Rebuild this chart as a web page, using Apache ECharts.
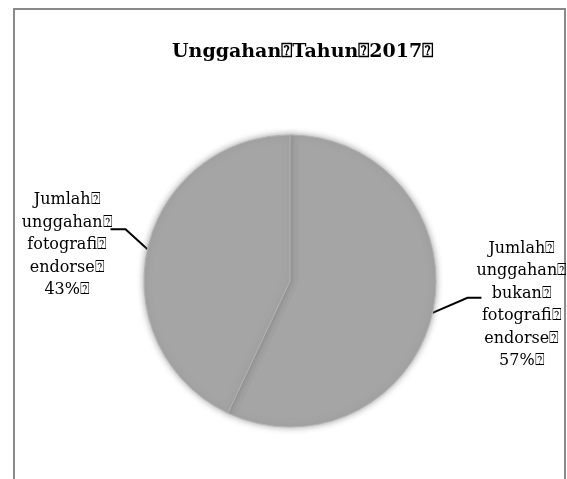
<!DOCTYPE html>
<html>
<head>
<meta charset="utf-8">
<script src="https://cdn.jsdelivr.net/npm/echarts@6/dist/echarts.min.js"></script>
<style>
  html, body { margin: 0; padding: 0; background: #fff; }
  #main { width: 567px; height: 479px; }
</style>
</head>
<body>
<div id="main"></div>
<script>
var mark = '\u2370';
var titleText = 'Unggahan' + mark + 'Tahun' + mark + '2017' + mark;
var categories = [
  ['Jumlah', 'unggahan', 'bukan', 'fotografi', 'endorse'],
  ['Jumlah', 'unggahan', 'fotografi', 'endorse']
];
var values = [57, 43];

var seriesData = categories.map(function (lines, i) {
  return { name: lines.join(mark + '\n') + mark, value: values[i] };
});

var myChart = echarts.init(document.getElementById('main'));
myChart.setOption({
  animation: false,
  textStyle: { fontFamily: 'DejaVu Serif' },
  title: {
    text: titleText,
    left: 167,
    top: 38,
    textStyle: {
      fontFamily: 'DejaVu Serif',
      fontWeight: 'bold',
      fontSize: 19,
      color: '#000'
    }
  },
  graphic: [{
    type: 'rect',
    shape: { x: 14, y: 9, width: 551, height: 500 },
    style: { fill: 'none', stroke: '#8a8a8a', lineWidth: 2 },
    silent: true
  }],
  series: [{
    type: 'pie',
    right: -30,
    center: [290, 281],
    radius: 146,
    startAngle: 90,
    clockwise: true,
    percentPrecision: 0,
    data: seriesData,
    itemStyle: {
      color: '#a5a5a5',
      borderColor: '#b3b3b3',
      borderWidth: 1,
      shadowBlur: 6,
      shadowColor: 'rgba(120,120,120,0.7)'
    },
    emphasis: { disabled: true },
    label: {
      show: true,
      position: 'outside',
      distanceToLabelLine: 0,
      bleedMargin: 0,
      formatter: function (p) {
        var lines = p.name.split('\n').concat([p.percent + '%' + mark]);
        return lines.map(function (l) { return '{c|' + l + '}'; }).join('\n');
      },
      rich: {
        c: {
          width: 94,
          align: 'center',
          fontFamily: 'DejaVu Serif',
          fontSize: 16,
          lineHeight: 22.5,
          color: '#000'
        }
      }
    },
    labelLine: {
      show: true,
      length: 28,
      length2: 12,
      lineStyle: { color: '#000', width: 2 }
    },
    labelLayout: function (p) {
      var pts = p.labelLinePoints;
      if (!pts) return {};
      var start = pts[0];
      var right = pts[1][0] > start[0];
      var mid = right ? [start[0] + 35, start[1] - 15] : [start[0] - 22, start[1] - 20];
      var end = [mid[0] + (right ? 14 : -15), mid[1]];
      return {
        labelLinePoints: [start, mid, end],
        dx: right ? 3 : 6,
        dy: right ? -14 : 2
      };
    }
  }]
});
</script>
</body>
</html>
